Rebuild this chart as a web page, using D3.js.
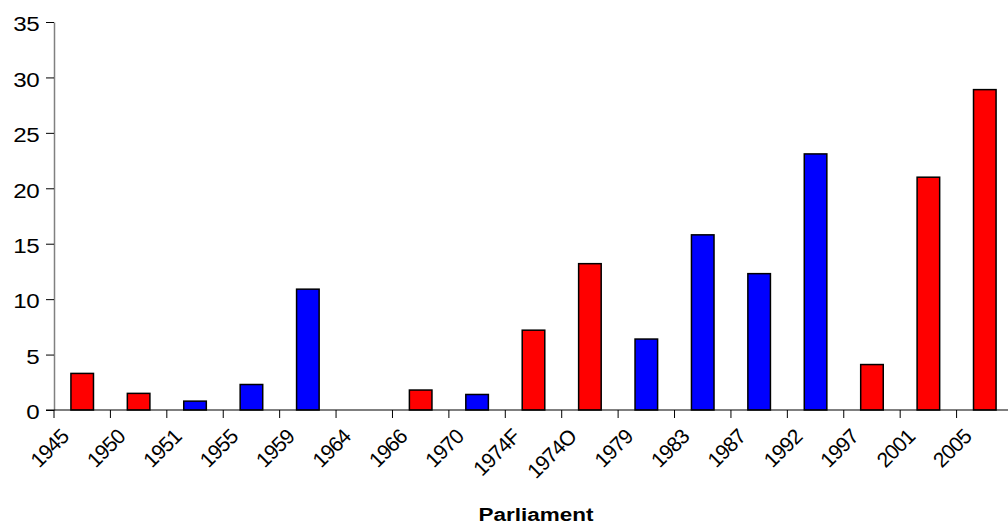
<!DOCTYPE html>
<html><head><meta charset="utf-8">
<script src="https://cdn.jsdelivr.net/npm/d3@7"></script>
<style>body{margin:0;background:#fff}svg{display:block}text{font-family:"Liberation Sans",Arial,sans-serif;fill:#000}</style>
</head><body>
<svg id="c" width="1008" height="525"></svg>
<script>
const categories = ["1945","1950","1951","1955","1959","1964","1966","1970","1974F","1974O","1979","1983","1987","1992","1997","2001","2005"];
const values = [3.3,1.5,0.8,2.3,10.9,0,1.8,1.4,7.2,13.2,6.4,15.8,12.3,23.1,4.1,21.0,28.9];
const parties = ["Lab","Lab","Con","Con","Con","Lab","Lab","Con","Lab","Lab","Con","Con","Con","Con","Lab","Lab","Lab"];
const yTicks = [0,5,10,15,20,25,30,35];
const partyColor = {Lab:"#ff0000", Con:"#0000ff"};

const svg = d3.select("#c");
const x = d3.scaleBand().domain(categories).range([54, 1013]).padding(0);
const y = d3.scaleLinear().domain([0,35]).range([410, 22]);

// bars
const bw = x.bandwidth()*0.4;
svg.append("g").selectAll("rect").data(categories).join("rect")
  .attr("x", (d)=> x(d) + (x.bandwidth()-bw)/2)
  .attr("y", (d,i)=> y(values[i]))
  .attr("width", bw)
  .attr("height", (d,i)=> y(0)-y(values[i]))
  .attr("fill", (d,i)=> partyColor[parties[i]])
  .attr("stroke", "#000").attr("stroke-width", 1.5)
  .style("display", (d,i)=> values[i] > 0 ? null : "none");

// y axis
const ya = svg.append("g").attr("transform","translate(54,0)")
  .call(d3.axisLeft(y).tickValues(yTicks).tickSize(8).tickSizeOuter(0));
ya.select(".domain").attr("stroke","#808080").attr("stroke-width",1.5);
ya.selectAll(".tick line").attr("stroke","#000");
ya.selectAll(".tick text").attr("font-size",21).attr("dy","0.42em")
  .attr("font-family","Liberation Sans, Arial, sans-serif")
  .attr("letter-spacing","-0.5")
  .attr("transform","scale(1.15,1)")
  .attr("x", -15/1.15);

// x axis line
svg.append("line").attr("x1",46).attr("x2",1008).attr("y1",410).attr("y2",410)
  .attr("stroke","#000").attr("stroke-width",1.2);
// x ticks at band starts
svg.append("g").selectAll("line").data(categories).join("line")
  .attr("x1",d=>x(d)).attr("x2",d=>x(d)).attr("y1",410).attr("y2",418)
  .attr("stroke","#000").attr("stroke-width",1);
svg.append("g").selectAll("text").data(categories).join("text")
  .attr("transform", d=>`translate(${x(d)+16},438) rotate(-45)`)
  .attr("text-anchor","end").attr("font-size",21).attr("letter-spacing","-0.8")
  .text(d=>d);

svg.append("text").attr("x",536).attr("y",521).attr("text-anchor","middle")
  .attr("font-size",18).attr("font-weight","bold")
  .attr("textLength",115).attr("lengthAdjust","spacingAndGlyphs")
  .text("Parliament");
</script>
</body></html>
